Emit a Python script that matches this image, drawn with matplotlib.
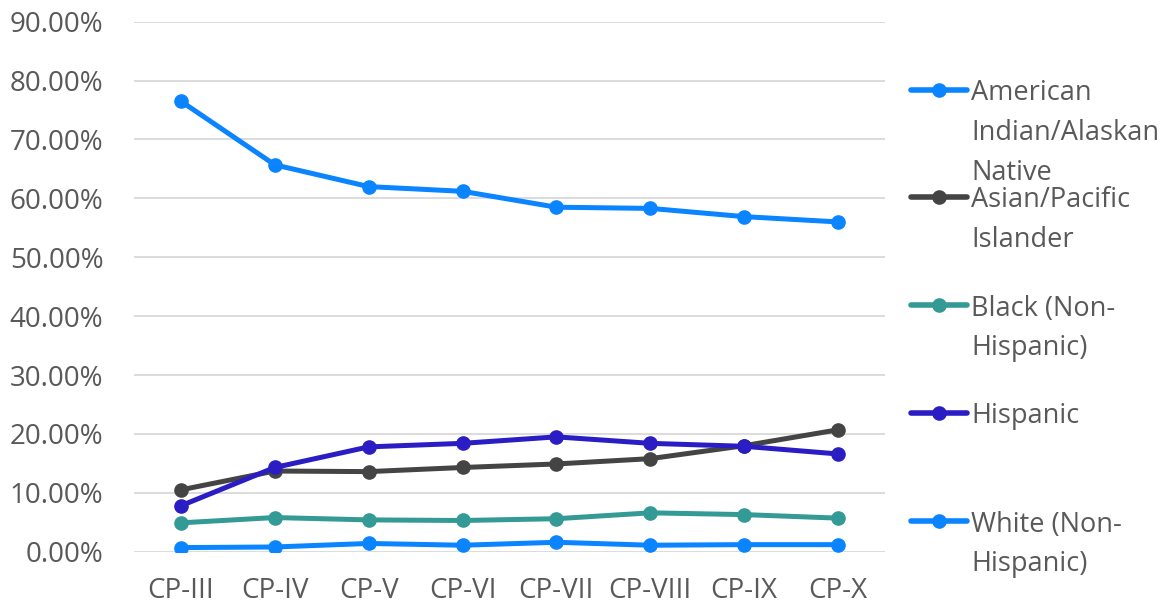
import matplotlib
matplotlib.use("Agg")
import matplotlib.pyplot as plt
from matplotlib.lines import Line2D
from matplotlib.ticker import PercentFormatter

categories = ['CP-III', 'CP-IV', 'CP-V', 'CP-VI', 'CP-VII', 'CP-VIII', 'CP-IX', 'CP-X']
american_indian = [76.5, 65.7, 62.0, 61.2, 58.5, 58.3, 56.9, 56.0]
asian_pacific = [10.5, 13.7, 13.6, 14.3, 14.9, 15.8, 18.0, 20.7]
black = [4.9, 5.8, 5.4, 5.3, 5.6, 6.6, 6.3, 5.7]
hispanic = [7.8, 14.3, 17.8, 18.4, 19.5, 18.4, 17.9, 16.6]
white = [0.7, 0.8, 1.4, 1.1, 1.6, 1.1, 1.2, 1.2]

series = [
    (["American", "Indian/Alaskan", "Native"], american_indian, "#0A84FF"),
    (["Asian/Pacific", "Islander"], asian_pacific, "#444444"),
    (["Black (Non-", "Hispanic)"], black, "#339A96"),
    (["Hispanic"], hispanic, "#2A1DC4"),
    (["White (Non-", "Hispanic)"], white, "#0A84FF"),
]

plt.rcParams['font.family'] = ['Open Sans', 'DejaVu Sans']
text_color = "#595959"

fig = plt.figure(figsize=(11.72, 6.05), dpi=100)
ax = fig.add_axes([0.1143, 0.0881, 0.6408, 0.876])

x = list(range(len(categories)))
for name, vals, col in series:
    ax.plot(x, [v / 100 for v in vals], color=col, linewidth=3.6,
            marker='o', markersize=9.5, solid_capstyle='round', zorder=3)

ax.set_xlim(-0.5, len(categories) - 0.5)
ax.set_ylim(0, 0.9)
ax.set_yticks([i / 10 for i in range(10)])
ax.yaxis.set_major_formatter(PercentFormatter(1.0, decimals=2))
ax.set_xticks(x)
ax.set_xticklabels(categories)
ax.grid(axis='y', color='#D9D9D9', linewidth=1.3, zorder=0)
ax.set_axisbelow(True)
for s in ax.spines.values():
    s.set_visible(False)
ax.tick_params(axis='y', length=0, labelsize=20, colors=text_color, pad=22)
ax.tick_params(axis='x', length=0, labelsize=20, colors=text_color, pad=18)

# legend drawn at the right, Excel style (handle aligned with first text line)
W, H = 1172, 605
first_line_y = [90, 197, 305, 413, 521]
line_gap = 39.5
for (lines, vals, col), py in zip(series, first_line_y):
    yf = 1 - py / H
    fig.add_artist(Line2D([911 / W, 939 / W, 967 / W], [yf, yf, yf], color=col,
                          linewidth=4, marker='o', markersize=9.5, markevery=[1],
                          solid_capstyle='round', transform=fig.transFigure))
    for k, txt in enumerate(lines):
        fig.text(971 / W, 1 - (py + k * line_gap) / H, txt, ha='left',
                 va='center_baseline', fontsize=19.5, color=text_color)

fig.savefig("out.png", dpi=100)
